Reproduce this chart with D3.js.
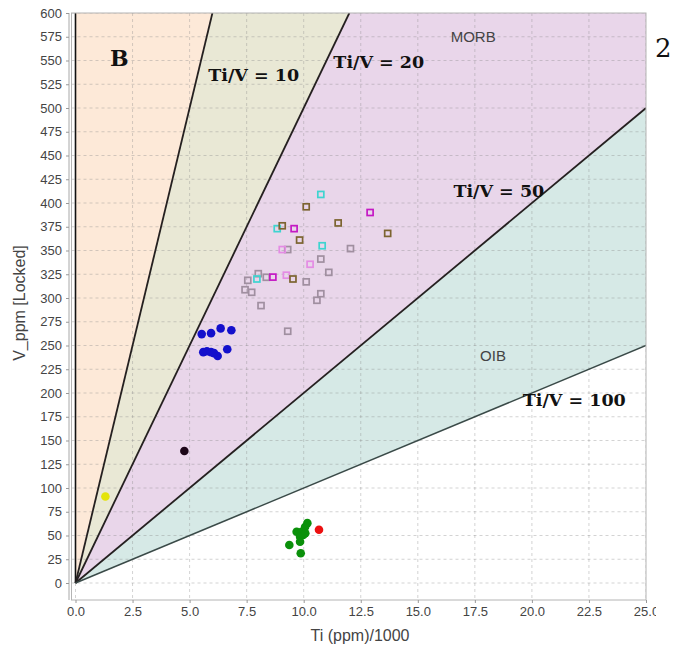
<!DOCTYPE html>
<html>
<head>
<meta charset="utf-8">
<script src="https://cdn.jsdelivr.net/npm/d3@7"></script>
<style>
  html, body { margin: 0; padding: 0; background: #fff; }
  svg { display: block; }
</style>
</head>
<body>
<svg id="chart" width="674" height="651"></svg>
<script>
// Ti–V discrimination diagram (Shervais-type), Ti in ppm/1000 vs V in ppm

const xTickValues = [0, 2.5, 5, 7.5, 10, 12.5, 15, 17.5, 20, 22.5, 25];
const yTickValues = [0, 25, 50, 75, 100, 125, 150, 175, 200, 225, 250, 275, 300,
                     325, 350, 375, 400, 425, 450, 475, 500, 525, 550, 575, 600];

// Ti/V ratio boundaries
const ratioLines = [10, 20, 50, 100];

// samples: [Ti (ppm)/1000, V (ppm)]
const blueCircles = [[5.53, 262], [5.94, 263], [6.36, 268], [6.83, 266], [5.60, 243],
                     [5.76, 244], [5.94, 243], [6.07, 242], [6.23, 239], [6.65, 246]];
const blackCircles = [[4.77, 139]];
const yellowCircles = [[1.31, 91]];
const greenCircles = [[10.16, 63], [10.06, 59], [9.69, 54], [9.91, 54], [9.98, 50.5],
                      [9.84, 48.7], [9.84, 43.5], [9.37, 40], [9.87, 31.3], [10.07, 52.3]];
const redCircles = [[10.67, 56]];

const cyanSquares = [[10.75, 409], [8.84, 373], [10.81, 355], [7.95, 320]];
const brownSquares = [[10.11, 396], [9.06, 376], [11.51, 379], [13.68, 368], [9.82, 361], [9.53, 320]];
const magentaSquares = [[12.91, 390], [9.58, 373], [8.65, 322]];
const pinkSquares = [[9.06, 351], [10.28, 335.5], [9.24, 324]];
const greySquares = [[9.30, 351], [12.05, 352], [10.75, 341], [11.10, 327], [10.11, 317],
                     [10.75, 304.5], [10.58, 297.6], [8.01, 325.6], [7.55, 318.6], [8.36, 321.8],
                     [7.43, 308.7], [7.72, 306], [8.13, 292], [9.30, 265]];

const circleSeries = [
  { data: blueCircles, color: "#1410cc" },
  { data: blackCircles, color: "#1c0618" },
  { data: yellowCircles, color: "#e4e40a" },
  { data: greenCircles, color: "#0a900a" },
  { data: redCircles, color: "#ec1010" }
];
const squareSeries = [
  { data: greySquares, color: "#a08fa0" },
  { data: pinkSquares, color: "#e48ce4" },
  { data: cyanSquares, color: "#3ed4d0" },
  { data: brownSquares, color: "#7c6430" },
  { data: magentaSquares, color: "#c418c4" }
];

const fieldColors = ["#fde9d8", "#e9e8d5", "#e9d6ea", "#d6e9e6"];

const svg = d3.select("#chart");
const plot = { left: 71.5, right: 646, top: 13, bottom: 600 };

const x = d3.scaleLinear().domain([0, 25]).range([75.5, 646]);
const y = d3.scaleLinear().domain([0, 600]).range([583, 13]);
const xMax = x.domain()[1], yMax = y.domain()[1];

svg.append("defs").append("clipPath").attr("id", "plotClip")
  .append("rect")
  .attr("x", plot.left).attr("y", plot.top)
  .attr("width", plot.right - plot.left).attr("height", plot.bottom - plot.top);
svg.select("defs").append("clipPath").attr("id", "xLabelClip")
  .append("rect").attr("x", 0).attr("y", 0).attr("width", 656).attr("height", 651);

const g = svg.append("g").attr("clip-path", "url(#plotClip)");

// end point of a ratio line where it leaves the plot (V = 1000*Ti/ratio)
function lineEnd(r) {
  const vAtMax = 1000 * xMax / r;
  return vAtMax <= yMax ? [xMax, vAtMax] : [yMax * r / 1000, yMax];
}

// fields between successive boundaries (first bounded by the V axis)
const bounds = [[0, yMax]].concat(ratioLines.map(lineEnd));
for (let i = 0; i < ratioLines.length; i++) {
  const a = bounds[i], b = bounds[i + 1];
  const pts = [[0, 0], a];
  if (a[1] === yMax && b[1] !== yMax) pts.push([xMax, yMax]);
  pts.push(b);
  g.append("path")
    .attr("d", d3.line().x(d => x(d[0])).y(d => y(d[1]))(pts) + "Z")
    .attr("fill", fieldColors[i]);
}

// dashed grid
g.selectAll(".gx").data(xTickValues).join("line")
  .attr("x1", d => x(d)).attr("x2", d => x(d))
  .attr("y1", plot.top).attr("y2", plot.bottom)
  .attr("stroke", "rgba(140,140,140,0.38)").attr("stroke-dasharray", "3,3");
g.selectAll(".gy").data(yTickValues).join("line")
  .attr("x1", plot.left).attr("x2", plot.right)
  .attr("y1", d => y(d)).attr("y2", d => y(d))
  .attr("stroke", "rgba(140,140,140,0.38)").attr("stroke-dasharray", "3,3");

// boundary lines
g.append("line")
  .attr("x1", x(0)).attr("x2", x(0)).attr("y1", y(0)).attr("y2", plot.top)
  .attr("stroke", "#111").attr("stroke-width", 1.6);
ratioLines.forEach((r, i) => {
  const e = lineEnd(r);
  g.append("line")
    .attr("x1", x(0)).attr("y1", y(0)).attr("x2", x(e[0])).attr("y2", y(e[1]))
    .attr("stroke", i === 3 ? "#3a4a48" : "#252020")
    .attr("stroke-width", i === 3 ? 1.5 : 1.8);
});

// samples
squareSeries.forEach(s => {
  g.selectAll(null).data(s.data).join("rect")
    .attr("x", d => x(d[0]) - 3).attr("y", d => y(d[1]) - 3)
    .attr("width", 6).attr("height", 6)
    .attr("fill", "none").attr("stroke", s.color).attr("stroke-width", 1.7);
});
circleSeries.forEach(s => {
  g.selectAll(null).data(s.data).join("circle")
    .attr("cx", d => x(d[0])).attr("cy", d => y(d[1])).attr("r", 4.3)
    .attr("fill", s.color);
});

// frame and axes
svg.append("rect")
  .attr("x", plot.left).attr("y", plot.top)
  .attr("width", plot.right - plot.left).attr("height", plot.bottom - plot.top)
  .attr("fill", "none").attr("stroke", "#b4b4b4").attr("stroke-width", 1);
svg.append("line").attr("x1", 69).attr("x2", 69).attr("y1", plot.top).attr("y2", plot.bottom)
  .attr("stroke", "#a8a8a8");

const axisFont = "'Liberation Sans', Arial, sans-serif";

const yAxis = svg.append("g").attr("transform", "translate(69,0)")
  .call(d3.axisLeft(y).tickValues(yTickValues).tickSize(3).tickPadding(4).tickFormat(d3.format("d")));
yAxis.select(".domain").remove();
yAxis.selectAll("line").attr("stroke", "#999");
yAxis.selectAll("text").attr("font-family", axisFont).attr("font-size", 13).attr("fill", "#444");

const xAxis = svg.append("g").attr("transform", `translate(0,${plot.bottom})`)
  .attr("clip-path", "url(#xLabelClip)")
  .call(d3.axisBottom(x).tickValues(xTickValues).tickSize(3).tickPadding(4).tickFormat(d3.format(".1f")));
xAxis.select(".domain").remove();
xAxis.selectAll("line").attr("stroke", "#999");
xAxis.selectAll("text").attr("font-family", axisFont).attr("font-size", 13).attr("fill", "#444");

svg.append("text")
  .attr("x", 360).attr("y", 641).attr("text-anchor", "middle")
  .attr("font-family", axisFont).attr("font-size", 16).attr("fill", "#444")
  .text("Ti (ppm)/1000");
svg.append("text")
  .attr("transform", "translate(25,303) rotate(-90)").attr("text-anchor", "middle")
  .attr("font-family", axisFont).attr("font-size", 16).attr("fill", "#444")
  .text("V_ppm [Locked]");

// annotations
const serif = "'DejaVu Serif', Cambria, serif";
const boldLabels = [
  { t: "B", at: [1.51, 544], size: 22 },
  { t: "Ti/V = 10", at: [5.82, 528], size: 17.5 },
  { t: "Ti/V = 20", at: [11.30, 542], size: 17.5 },
  { t: "Ti/V = 50", at: [16.56, 406], size: 17.5 },
  { t: "Ti/V = 100", at: [19.60, 186], size: 17.5 }
];
boldLabels.forEach(l => {
  svg.append("text").attr("x", x(l.at[0])).attr("y", y(l.at[1]))
    .attr("font-family", serif).attr("font-weight", "bold")
    .attr("font-size", l.size).attr("fill", "#111").text(l.t);
});
[{ t: "MORB", at: [16.44, 570] }, { t: "OIB", at: [17.73, 234] }].forEach(l => {
  svg.append("text").attr("x", x(l.at[0])).attr("y", y(l.at[1]))
    .attr("font-family", axisFont).attr("font-size", 15).attr("fill", "#444").text(l.t);
});
svg.append("text").attr("x", 655).attr("y", 57)
  .attr("font-family", serif).attr("font-size", 26).attr("fill", "#111").text("2");
</script>
</body>
</html>
